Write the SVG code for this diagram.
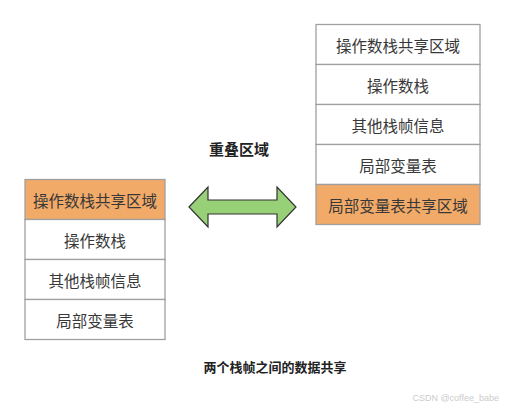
<svg xmlns="http://www.w3.org/2000/svg" width="505" height="410" viewBox="0 0 505 410">
<style>
.box{fill:#ffffff;stroke:#a0a0a0;stroke-width:1.3}
.hl{fill:#f2aa68;stroke:#a0a0a0;stroke-width:1.3}
.t{font-family:"Noto Sans CJK SC","Noto Sans",sans-serif;font-size:15.5px;fill:#383838;text-anchor:middle;dominant-baseline:central}
.b{font-family:"Noto Sans CJK SC","Noto Sans",sans-serif;font-weight:bold;fill:#222222;text-anchor:middle;dominant-baseline:central}
</style>
<rect width="505" height="410" fill="#ffffff"/>
<g id="right-stack">
<g id="r1"><rect class="box" x="316" y="24.5" width="164" height="40"/><text class="t" x="398" y="44.5">操作数栈共享区域</text></g>
<g id="r2"><rect class="box" x="316" y="64.5" width="164" height="40"/><text class="t" x="398" y="84.5">操作数栈</text></g>
<g id="r3"><rect class="box" x="316" y="104.5" width="164" height="40"/><text class="t" x="398" y="124.5">其他栈帧信息</text></g>
<g id="r4"><rect class="box" x="316" y="144.5" width="164" height="40"/><text class="t" x="398" y="164.5">局部变量表</text></g>
<g id="r5"><rect class="hl" x="316" y="184.5" width="164" height="40"/><text class="t" x="398" y="204.5">局部变量表共享区域</text></g>
</g>
<g id="left-stack">
<g id="l1"><rect class="hl" x="25" y="179.5" width="140" height="40"/><text class="t" x="95" y="199.5">操作数栈共享区域</text></g>
<g id="l2"><rect class="box" x="25" y="219.5" width="140" height="40"/><text class="t" x="95" y="239.5">操作数栈</text></g>
<g id="l3"><rect class="box" x="25" y="259.5" width="140" height="40"/><text class="t" x="95" y="279.5">其他栈帧信息</text></g>
<g id="l4"><rect class="box" x="25" y="299.5" width="140" height="40"/><text class="t" x="95" y="319.5">局部变量表</text></g>
</g>
<g id="connectors">
<path d="M189,207 L208,187 L208,200 L277,200 L277,187 L296,207 L277,227 L277,214 L208,214 L208,227 Z" fill="#97d077" stroke="#333333" stroke-width="1.2" stroke-linejoin="miter"/>
</g>
<g id="label-overlap"><text class="b" x="239" y="148" font-size="15">重叠区域</text></g>
<g id="caption"><text class="b" x="275" y="366" font-size="13">两个栈帧之间的数据共享</text></g>
<text x="499" y="398" font-family="Liberation Sans, sans-serif" font-size="9" fill="#cccccc" text-anchor="end" dominant-baseline="central">CSDN @coffee_babe</text>
</svg>
